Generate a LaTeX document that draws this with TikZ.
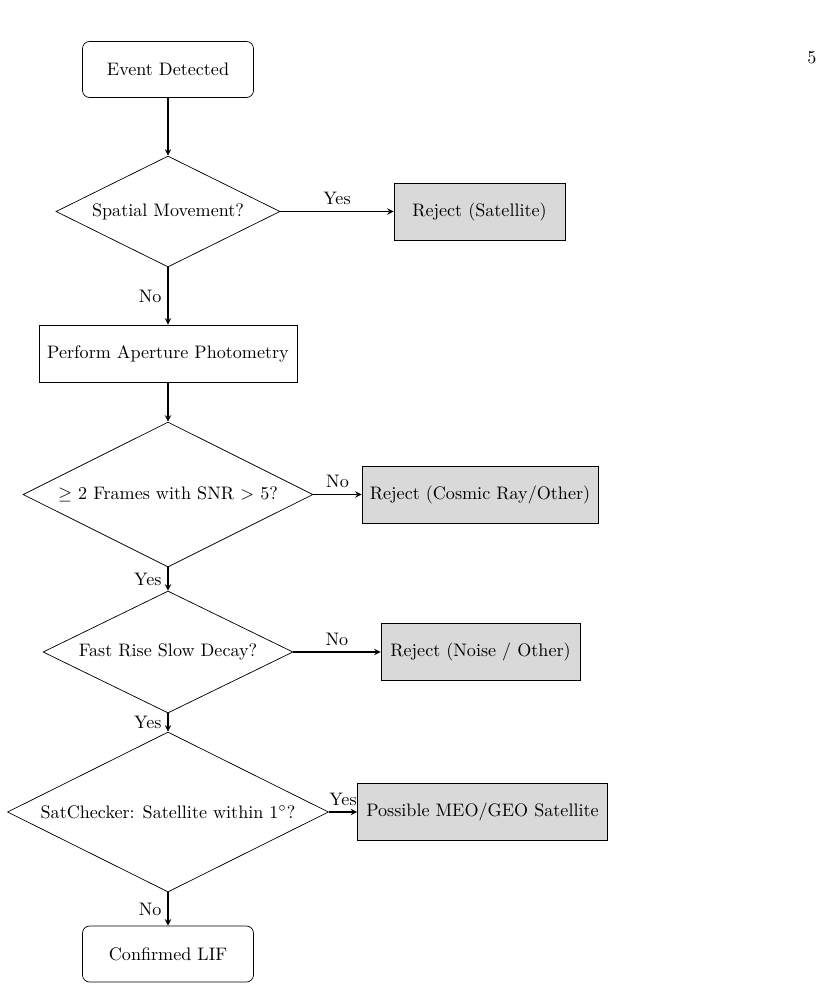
\documentclass[tikz,border=0pt]{standalone}
\usetikzlibrary{shapes.geometric}
\begin{document}
\begin{tikzpicture}[x=0.5525pt,y=-0.5525pt,>=stealth,
  startbox/.style={draw,rounded corners=4pt,minimum width=94.5pt,minimum height=31pt,inner sep=0pt},
  procbox/.style={draw,minimum height=31.5pt,inner sep=0pt},
  rejbox/.style={draw,fill=gray!30,minimum height=31.5pt,inner sep=0pt},
  decbox/.style={draw,diamond,aspect=2,inner sep=0pt},
  flow/.style={->,semithick}]
\useasboundingbox (0,0) rectangle (822,990);
\node (pg) at (812,58) {5};
\node[startbox] (ev) at (168,69.5) {Event Detected};
\node[decbox,minimum width=123.8pt,minimum height=61.3pt] (d1) at (168,211.5) {Spatial Movement?};
\node[rejbox,minimum width=94.5pt] (rs) at (479.5,211.5) {Reject (Satellite)};
\node[procbox,minimum width=142.5pt] (ph) at (168,353.5) {Perform Aperture Photometry};
\node[decbox,minimum width=160.2pt,minimum height=80.1pt] (d2) at (168,494.5) {$\geq$ 2 Frames with SNR $>$ 5?};
\node[rejbox,minimum width=130.4pt] (rc) at (480,494.5) {Reject (Cosmic Ray/Other)};
\node[decbox,aspect=2.05,minimum width=138.1pt,minimum height=67.4pt] (d3) at (168,652) {Fast Rise Slow Decay?};
\node[rejbox,minimum width=110pt] (rn) at (480.5,652) {Reject (Noise / Other)};
\node[decbox,minimum width=177.4pt,minimum height=88.4pt] (d4) at (168,812) {SatChecker: Satellite within $1^\circ$?};
\node[rejbox,minimum width=138.1pt] (pm) at (482.5,812) {Possible MEO/GEO Satellite};
\node[startbox] (lif) at (168,954) {Confirmed LIF};
\draw[flow] (ev) -- (d1);
\draw[flow] (d1) -- node[above] (l1) {Yes} (rs);
\draw[flow] (d1) -- node[left] (l2) {No} (ph);
\draw[flow] (ph) -- (d2);
\draw[flow] (d2) -- node[above] (l3) {No} (rc);
\draw[flow] (d2) -- node[left] (l4) {Yes} (d3);
\draw[flow] (d3) -- node[above] (l5) {No} (rn);
\draw[flow] (d3) -- node[left] (l6) {Yes} (d4);
\draw[flow] (d4) -- node[above] (l7) {Yes} (pm);
\draw[flow] (d4) -- node[left] (l8) {No} (lif);
\end{tikzpicture}
\end{document}
